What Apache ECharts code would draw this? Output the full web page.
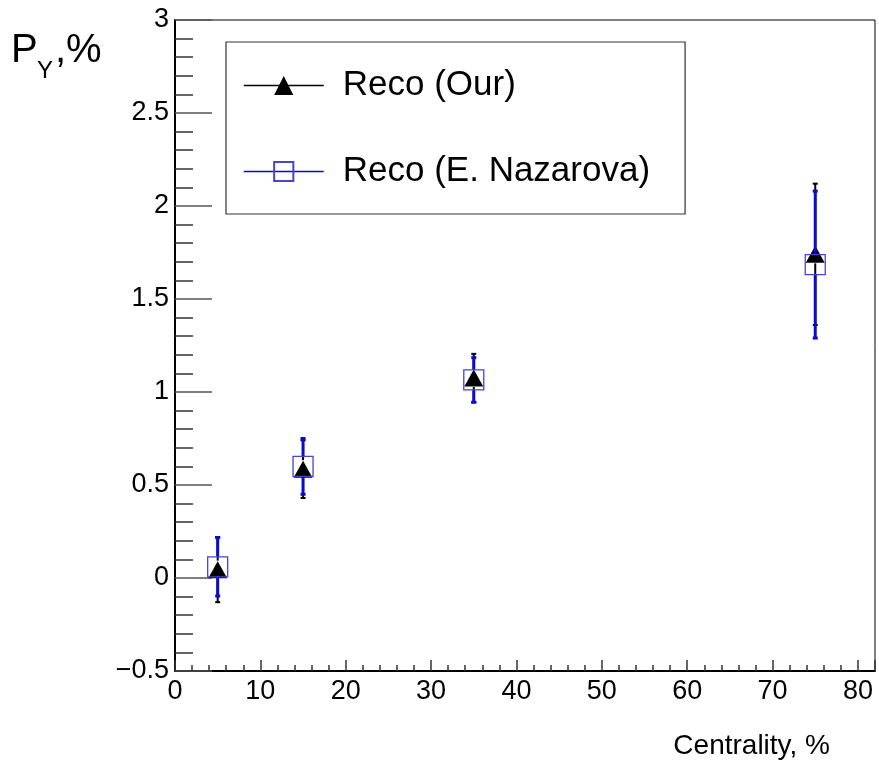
<!DOCTYPE html>
<html>
<head>
<meta charset="utf-8">
<script src="https://cdn.jsdelivr.net/npm/echarts@6/dist/echarts.min.js"></script>
<style>
  html, body { margin: 0; padding: 0; background: #fff; }
  #chart { width: 879px; height: 760px; }
</style>
</head>
<body>
<div id="chart"></div>
<script>
// Centrality bins, %
const centrality = [5, 15, 35, 75];
// Reco (Our): polarization P_Y and its error, %
const ourValues = [0.045, 0.585, 1.075, 1.74];
const ourErrors = [0.175, 0.155, 0.13, 0.38];
// Reco (E. Nazarova): polarization P_Y and its error, %
const nazValues = [0.06, 0.60, 1.065, 1.685];
const nazErrors = [0.157, 0.15, 0.12, 0.395];
const seriesNames = ['Reco (Our)', 'Reco (E. Nazarova)'];

const FONT = '"Liberation Sans", Arial, Helvetica, sans-serif';
const BLUE = '#0a0ad2';

const ourPoints = centrality.map((c, i) => [c, ourValues[i]]);
const ourBars = centrality.map((c, i) => [c, ourValues[i], ourErrors[i]]);
const nazPoints = centrality.map((c, i) => [c, nazValues[i]]);
const nazBars = centrality.map((c, i) => [c, nazValues[i], nazErrors[i]]);

// Vertical error bar with small end marks, left open where the marker sits
function errorBars(color, width, gap) {
  return function (params, api) {
    const x = api.value(0), y = api.value(1), e = api.value(2);
    const c = api.coord([x, y]);
    const top = api.coord([x, y + e])[1];
    const bot = api.coord([x, y - e])[1];
    const style = { stroke: color, lineWidth: width };
    const cap = 2.5;
    const children = [];
    if (c[1] - gap > top) children.push({ type: 'line', shape: { x1: c[0], y1: top, x2: c[0], y2: c[1] - gap }, style });
    if (c[1] + gap < bot) children.push({ type: 'line', shape: { x1: c[0], y1: c[1] + gap, x2: c[0], y2: bot }, style });
    children.push({ type: 'line', shape: { x1: c[0] - cap, y1: top, x2: c[0] + cap, y2: top }, style });
    children.push({ type: 'line', shape: { x1: c[0] - cap, y1: bot, x2: c[0] + cap, y2: bot }, style });
    return { type: 'group', children };
  };
}

const chart = echarts.init(document.getElementById('chart'), null, { renderer: 'canvas' });

const labelStyle = { fontSize: 27, color: '#000', fontFamily: FONT };

chart.setOption({
  animation: false,
  backgroundColor: '#fff',
  grid: {
    left: 175, right: 4, top: 20, bottom: 89,
    show: true, borderColor: '#000', borderWidth: 1, backgroundColor: 'transparent'
  },
  legend: {
    data: [
      { name: seriesNames[0], lineStyle: { color: '#000' } },
      { name: seriesNames[1], lineStyle: { color: BLUE } }
    ],
    orient: 'vertical',
    left: 226, top: 42,
    itemWidth: 80, itemHeight: 24, itemGap: 51,
    padding: [26, 35, 25, 17],
    borderColor: '#333', borderWidth: 1.2,
    textStyle: { fontSize: 35, color: '#000', fontFamily: FONT, padding: [0, 0, 0, 14] },
    lineStyle: { width: 1.5, opacity: 1 },
    selectedMode: false
  },
  graphic: [
    { type: 'text', x: 11, y: 51, style: { text: 'P', fontSize: 40, fontFamily: FONT, fill: '#000', verticalAlign: 'middle' } },
    { type: 'text', x: 37, y: 71, style: { text: 'Y', fontSize: 24, fontFamily: FONT, fill: '#000', verticalAlign: 'middle' } },
    { type: 'text', x: 55, y: 51, style: { text: ',%', fontSize: 40, fontFamily: FONT, fill: '#000', verticalAlign: 'middle' } }
  ],
  xAxis: [
    {
      type: 'value', min: 0, max: 82, interval: 10, position: 'bottom',
      name: 'Centrality, %', nameLocation: 'end', nameGap: -45,
      nameTextStyle: { fontSize: 28, color: '#000', fontFamily: FONT, align: 'right', verticalAlign: 'top', padding: [61, 0, 0, 0] },
      axisLine: { show: true, onZero: false, lineStyle: { color: '#000', width: 2 } },
      axisTick: { show: true, inside: true, length: 11, lineStyle: { color: '#333', width: 1.5 } },
      axisLabel: Object.assign({ margin: 7, formatter: v => (v % 10 === 0 ? String(v) : '') }, labelStyle),
      splitLine: { show: false }
    },
    {
      type: 'value', min: 0, max: 82, interval: 2, position: 'bottom',
      axisLine: { show: false, onZero: false },
      axisTick: { show: true, inside: true, length: 6, lineStyle: { color: '#333', width: 1.5 } },
      axisLabel: { show: false },
      splitLine: { show: false }
    }
  ],
  yAxis: {
    type: 'value', min: -0.5, max: 3, interval: 0.5,
    axisLine: { show: true, onZero: false, lineStyle: { color: '#000', width: 2 } },
    axisTick: { show: true, inside: true, length: 37, lineStyle: { color: '#555', width: 1.5 } },
    minorTick: { show: true, splitNumber: 5, length: 18, lineStyle: { color: '#333', width: 1.5 } },
    axisLabel: Object.assign({ margin: 6, formatter: v => String(v).replace('-', '\u2212') }, labelStyle),
    splitLine: { show: false },
    minorSplitLine: { show: false }
  },
  series: [
    {
      name: 'ourErr', type: 'custom', xAxisIndex: 0, z: 2,
      data: ourBars, renderItem: errorBars('#000', 2, 9), silent: true
    },
    {
      name: seriesNames[0], type: 'line', xAxisIndex: 0, z: 3,
      data: ourPoints,
      symbol: 'triangle', symbolSize: [19, 17],
      itemStyle: { color: '#000' },
      lineStyle: { width: 0, color: '#000' },
      emphasis: { disabled: true }
    },
    {
      name: 'nazErr', type: 'custom', xAxisIndex: 0, z: 4,
      data: nazBars, renderItem: errorBars(BLUE, 3, 10), silent: true
    },
    {
      name: seriesNames[1], type: 'line', xAxisIndex: 0, z: 5,
      data: nazPoints,
      symbol: 'rect', symbolSize: 20,
      itemStyle: { color: 'rgba(0,0,0,0)', borderColor: '#4646c8', borderWidth: 1.3 },
      lineStyle: { width: 0, color: BLUE },
      emphasis: { disabled: true }
    }
  ]
});
</script>
</body>
</html>
